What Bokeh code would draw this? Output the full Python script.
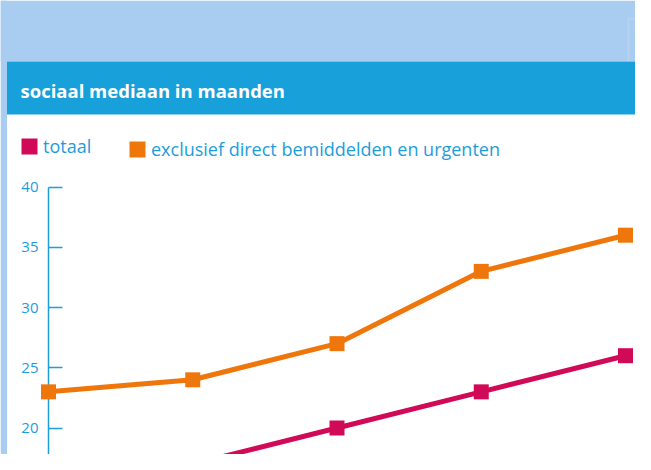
from bokeh.plotting import figure
from bokeh.models import (Range1d, LinearAxis, FixedTicker, BoxAnnotation, Label,
                          Legend, LegendItem, ColumnDataSource)
from bokeh.embed import file_html
from bokeh.resources import INLINE

# ---- data ----
periode = [0, 1, 2, 3, 4]
totaal = [16, 17, 20, 23, 26]
exclusief = [23, 24, 27, 33, 36]
y_ticks = [20, 25, 30, 35, 40]
title_text = "sociaal mediaan in maanden"
label_totaal = "totaal"
label_excl = "exclusief direct bemiddelden en urgenten"

# ---- styles ----
LIGHT_BG = "#a9cdf0"
BAR_BLUE = "#18a0db"
TEXT_BLUE = "#1d9ddb"
MAGENTA = "#d10a57"
ORANGE = "#ef760b"

W, H = 635, 454
X0_PX, DX_PX = 48.0, 144.25
Y40_PX, PX_PER_UNIT = 186.5, 12.05
x_start = -X0_PX / DX_PX
x_end = x_start + W / DX_PX
y_end = 40 + Y40_PX / PX_PER_UNIT
y_start = y_end - H / PX_PER_UNIT


def sx(px):
    return x_start + px / DX_PX


def sy(py):
    return y_end - py / PX_PER_UNIT


p = figure(width=W, height=H, x_range=Range1d(x_start, x_end), y_range=Range1d(y_start, y_end),
           x_axis_type=None, y_axis_type=None, min_border=0, toolbar_location=None,
           output_backend="svg", outline_line_color=None,
           background_fill_color="white", border_fill_color="white")
p.grid.visible = False

# decorations
p.add_layout(BoxAnnotation(bottom=sy(61), fill_color=LIGHT_BG, fill_alpha=1, line_color=None,
                           level="underlay"))
p.add_layout(BoxAnnotation(right=sx(6.5), fill_color=LIGHT_BG, fill_alpha=1, line_color=None,
                           level="underlay"))
p.add_layout(BoxAnnotation(left=sx(628), right=sx(660), top=sy(18), bottom=sy(70),
                           fill_alpha=0, line_color="#cfe2f6", line_width=2, level="underlay"))
p.add_layout(BoxAnnotation(left=sx(6.5), top=sy(61), bottom=sy(114), fill_color=BAR_BLUE,
                           fill_alpha=1, line_color=None, level="underlay"))
p.add_layout(Label(x=sx(20), y=sy(90), text=title_text, text_color="white",
                   text_font="Open Sans", text_font_style="bold", text_font_size="18.5px",
                   text_baseline="middle"))

# axis
yaxis = LinearAxis(fixed_location=0, ticker=FixedTicker(ticks=y_ticks), bounds=(10, 40),
                   axis_line_color=TEXT_BLUE, axis_line_width=1.5,
                   major_tick_line_color=TEXT_BLUE, major_tick_line_width=1.5,
                   major_tick_in=14, major_tick_out=0, minor_tick_line_color=None,
                   major_label_standoff=10, major_label_text_color=TEXT_BLUE,
                   major_label_text_font="Open Sans", major_label_text_font_size="15px")
p.add_layout(yaxis, "left")

src = ColumnDataSource(dict(x=periode, totaal=totaal, excl=exclusief))

p.line("x", "excl", source=src, line_color=ORANGE, line_width=5, level="overlay")
r_excl = p.rect("x", "excl", source=src, width=15, height=15, width_units="screen",
                height_units="screen", fill_color=ORANGE, line_color=None, level="overlay")
p.line("x", "totaal", source=src, line_color=MAGENTA, line_width=5, level="overlay")
r_tot = p.rect("x", "totaal", source=src, width=15, height=15, width_units="screen",
               height_units="screen", fill_color=MAGENTA, line_color=None, level="overlay")

common = dict(padding=0, margin=0, border_line_color=None, background_fill_alpha=0,
              glyph_width=20, glyph_height=20, label_height=20, label_standoff=4,
              label_text_font="Open Sans", label_text_font_size="18px",
              label_text_color=TEXT_BLUE)
p.add_layout(Legend(items=[LegendItem(label=label_totaal, renderers=[r_tot])],
                    location=(19, H - 158), **common))
p.add_layout(Legend(items=[LegendItem(label=label_excl, renderers=[r_excl])],
                    location=(127, H - 161), **common))

open("out.html", "w").write(file_html(p, INLINE))
